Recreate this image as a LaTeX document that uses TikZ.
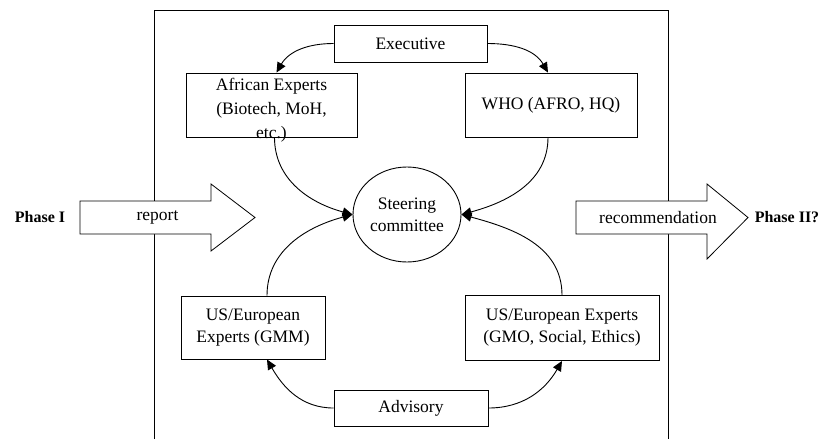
\documentclass[tikz,border=0pt]{standalone}
\usepackage{fontspec}
\setmainfont{Liberation Serif}
\usetikzlibrary{arrows.meta,shapes.geometric}
\tikzset{
  box/.style={draw, line width=0.9pt, align=center, inner sep=2pt},
  link/.style={line width=0.9pt, -{Triangle[length=10pt,width=9pt]}},
  phase/.style={font=\fontsize{16}{19}\selectfont\bfseries}
}
\begin{document}
\begin{tikzpicture}[x=1pt, y=-1pt, font=\fontsize{17.5}{22}\selectfont]
          \useasboundingbox (0,0) rectangle (826,439);
          \coordinate (FL) at (154,439);
          \coordinate (FTL) at (154,10);
          \coordinate (FTR) at (668,10);
          \coordinate (FR) at (668,439);
          \draw[line width=0.9pt] (FL) -- (FTL) -- (FTR) -- (FR);
          \filldraw[fill=white, line width=0.8pt] (80,201) -- (211,201) -- (211,184) -- (255,217.5) -- (211,251) -- (211,234) -- (80,234) -- cycle;
          \filldraw[fill=white, line width=0.8pt] (576,201) -- (707,201) -- (707,184) -- (748,217.5) -- (707,259) -- (707,234) -- (576,234) -- cycle;
          \node (report) at (157.5,217.5) {report};
          \node (recomm) at (658,217.5) {recommendation};
          \node[phase] (phaseI) at (40,217) {Phase I};
          \node[phase] (phaseII) at (787,217) {Phase II?};
          \node[box, minimum width=153pt, minimum height=37pt] (exec) at (410.5,43.5) {Executive};
          \node[box, minimum width=171pt, minimum height=64pt] (african) at (271.5,105) {};
          \node[align=center, font=\fontsize{17.5}{24}\selectfont] (africantxt) at (271.5,110) {African Experts\\(Biotech, MoH,\\etc.)};
          \node[box, minimum width=172pt, minimum height=64pt] (who) at (551,105) {WHO (AFRO, HQ)};
          \node[draw, ellipse, line width=0.9pt, align=center, minimum width=108pt, minimum height=95pt, inner sep=0pt] (steer) at (407,214.5) {Steering\\committee};
          \node[box, minimum width=144pt, minimum height=63pt] (useu) at (253,327.5) {US/European\\Experts (GMM)};
          \node[box, minimum width=194pt, minimum height=65pt] (usgmo) at (562,328) {US/European Experts\\(GMO, Social, Ethics)};
          \node[box, minimum width=154pt, minimum height=36pt] (advisory) at (411,408) {Advisory};
          \draw[link] (exec.west) to[out=180, in=60] ([xshift=5pt]african.north);
          \draw[link] (exec.east) to[out=0, in=120] ([xshift=-3pt]who.north);
          \draw[link] ([xshift=3pt]african.south) to[out=-90, in=165] (steer.west);
          \draw[link] ([xshift=-3pt]who.south) to[out=-90, in=15] (steer.east);
          \draw[link] ([xshift=14pt]useu.north) to[out=90, in=195] (steer.west);
          \draw[link] (usgmo.north) to[out=90, in=-15] (steer.east);
          \draw[link] (advisory.west) to[out=180, in=-60] ([xshift=14pt]useu.south);
          \draw[link] (advisory.east) to[out=0, in=-120] (usgmo.south);
        \end{tikzpicture}
\end{document}
